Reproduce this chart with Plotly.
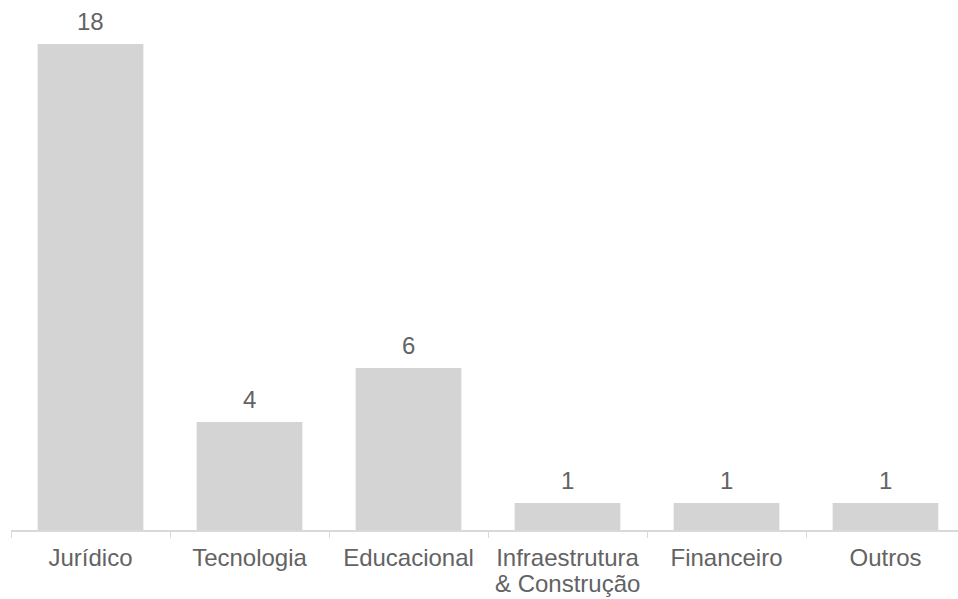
import plotly.graph_objects as go

categories = ["Jurídico", "Tecnologia", "Educacional",
              "Infraestrutura & Construção", "Financeiro", "Outros"]
# category labels split into the line shown on the axis and an optional second line
label_line1 = ["Jurídico", "Tecnologia", "Educacional",
               "Infraestrutura", "Financeiro", "Outros"]
label_line2 = ["", "", "", "& Construção", "", ""]
counts = [18, 4, 6, 1, 1, 1]

BAR_COLOR = "#d4d4d4"
TEXT_COLOR = "#636363"
AXIS_COLOR = "#d9d9d9"
FONT = "Liberation Sans, Arial, sans-serif"
FONT_SIZE = 24

fig = go.Figure(
    go.Bar(
        x=categories,
        y=counts,
        marker=dict(color=BAR_COLOR, line=dict(width=0)),
        width=0.665,
        hoverinfo="skip",
    )
)

# value labels above each bar
for cat, val in zip(categories, counts):
    fig.add_annotation(
        x=cat, y=val, text=str(val), showarrow=False,
        yanchor="bottom", yshift=7,
        font=dict(family=FONT, size=FONT_SIZE, color=TEXT_COLOR),
    )

# second line of wrapped category labels, set with tighter line spacing
for cat, extra in zip(categories, label_line2):
    if extra:
        fig.add_annotation(
            x=cat, xref="x", y=0, yref="paper", text=extra, showarrow=False,
            yanchor="middle", yshift=-53,
            font=dict(family=FONT, size=FONT_SIZE, color=TEXT_COLOR),
        )

fig.update_layout(
    width=958, height=599,
    margin=dict(l=11, r=0, t=17, b=69),
    paper_bgcolor="white", plot_bgcolor="white",
    showlegend=False,
    font=dict(family=FONT, size=FONT_SIZE, color=TEXT_COLOR),
    xaxis=dict(
        type="category",
        range=[-0.5, 5.456],
        automargin=False,
        tickvals=categories, ticktext=label_line1,
        showline=True, linecolor=AXIS_COLOR, linewidth=2,
        ticks="outside", tickson="boundaries", ticklen=6,
        tickcolor=AXIS_COLOR, tickwidth=1,
        ticklabelstandoff=5,
        showgrid=False, zeroline=False,
        tickfont=dict(family=FONT, size=FONT_SIZE, color=TEXT_COLOR),
    ),
    yaxis=dict(
        range=[0, 19], visible=False, automargin=False,
        showgrid=False, zeroline=False,
    ),
)

fig.write_html("out.html")
